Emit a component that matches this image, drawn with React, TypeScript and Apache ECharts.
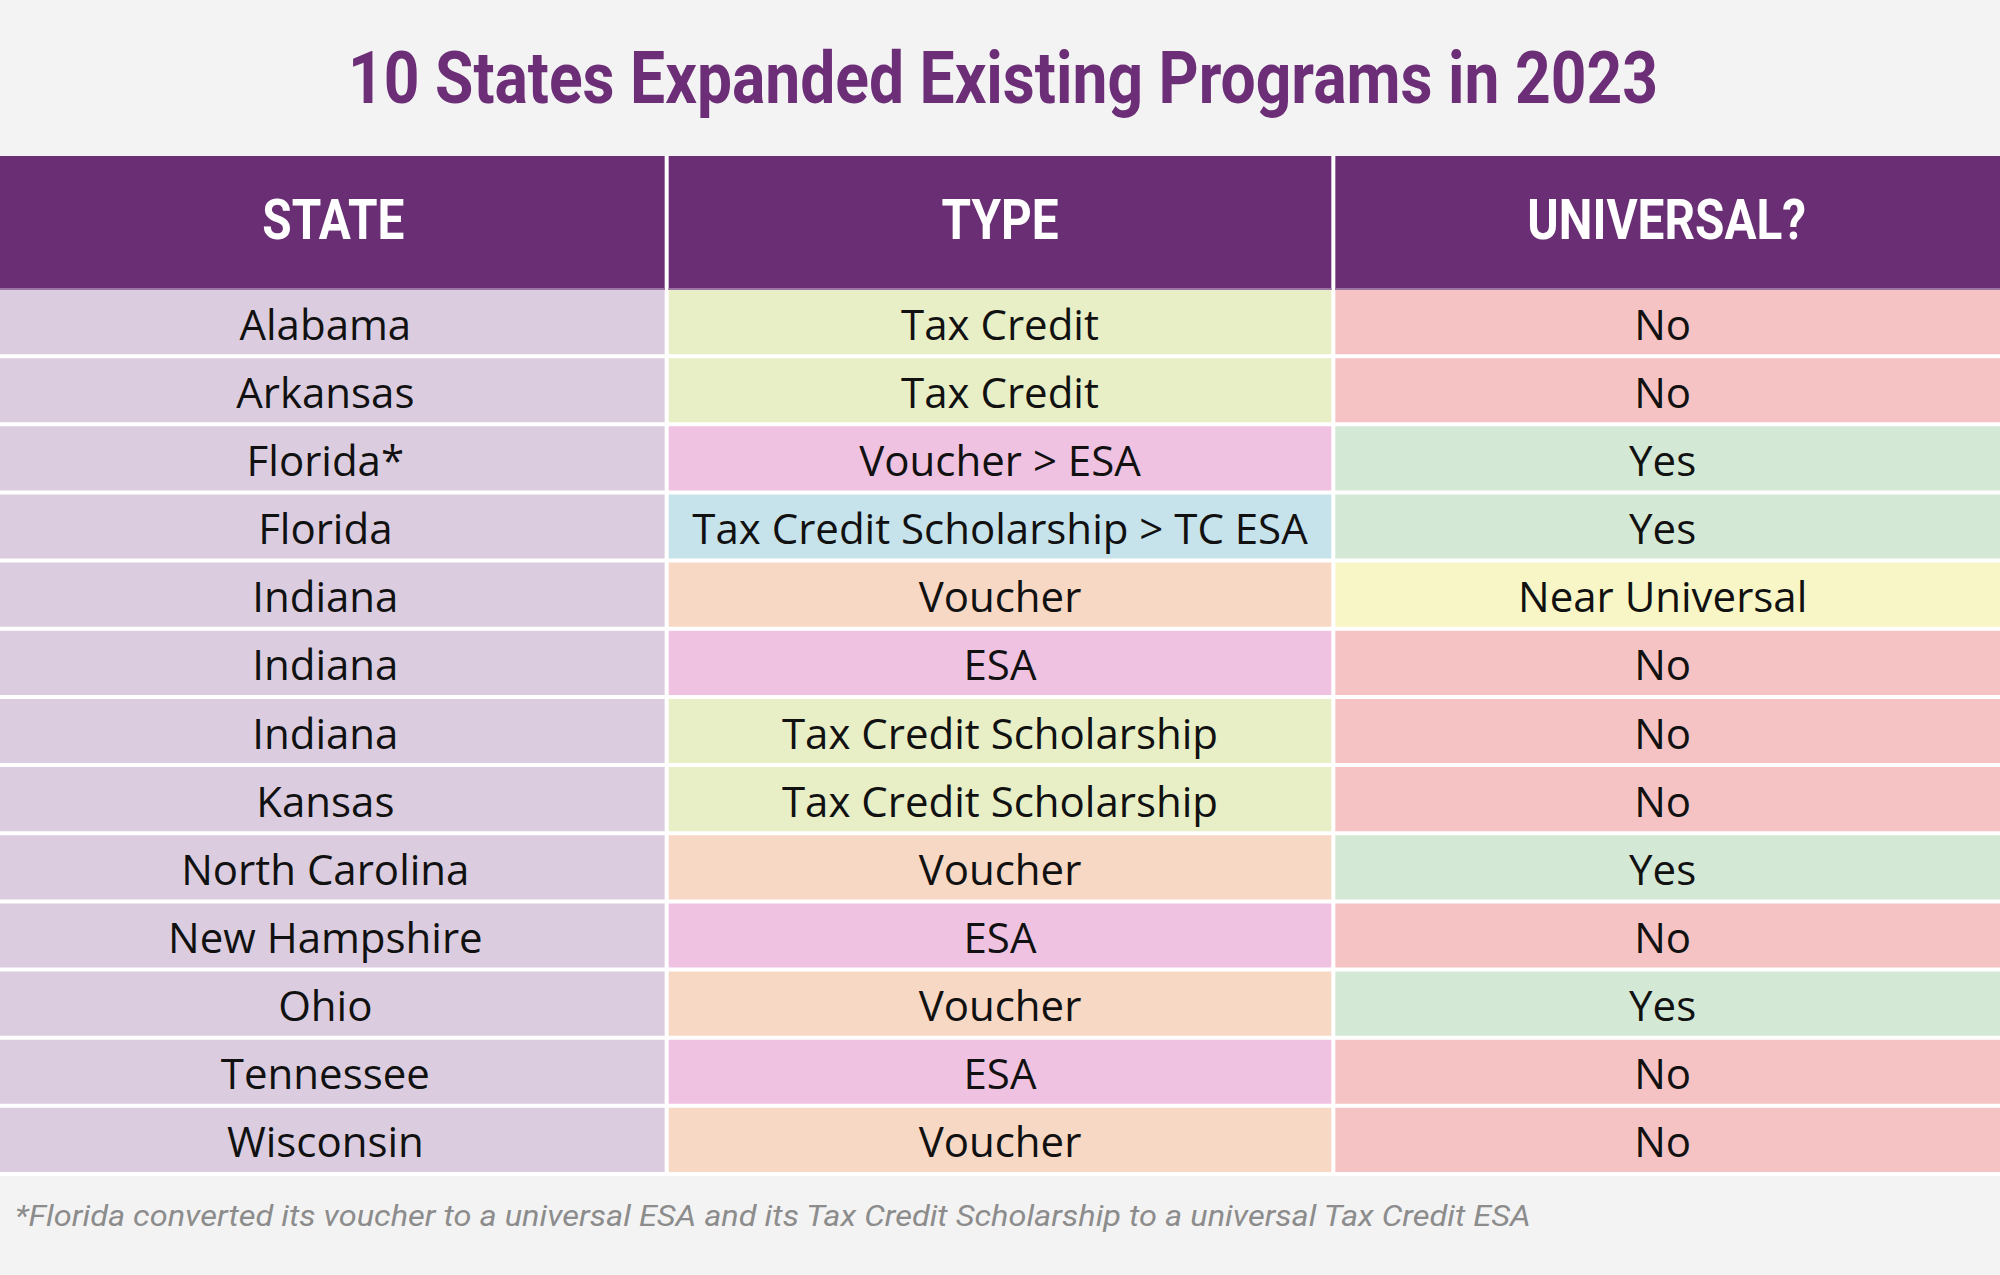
import React, { useEffect, useRef } from "react";
import * as echarts from "echarts";

const titleText = "10 States Expanded Existing Programs in 2023";
const headers = ["STATE", "TYPE", "UNIVERSAL?"];
const states = [
  "Alabama", "Arkansas", "Florida*", "Florida", "Indiana", "Indiana", "Indiana",
  "Kansas", "North Carolina", "New Hampshire", "Ohio", "Tennessee", "Wisconsin",
];
const types = [
  "Tax Credit", "Tax Credit", "Voucher > ESA", "Tax Credit Scholarship > TC ESA",
  "Voucher", "ESA", "Tax Credit Scholarship", "Tax Credit Scholarship", "Voucher",
  "ESA", "Voucher", "ESA", "Voucher",
];
const universal = [
  "No", "No", "Yes", "Yes", "Near Universal", "No", "No", "No", "Yes", "No", "Yes", "No", "No",
];
const footnote =
  "*Florida converted its voucher to a universal ESA and its Tax Credit Scholarship to a universal Tax Credit ESA";

const stateColor = "#dbcddf";
const typeColors: Record<string, string> = {
  "Tax Credit": "#e8efc6",
  "Tax Credit Scholarship": "#e8efc6",
  "Voucher > ESA": "#f0c2e2",
  ESA: "#f0c2e2",
  "Tax Credit Scholarship > TC ESA": "#c6e2ea",
  Voucher: "#f7d8c4",
};
const universalColors: Record<string, string> = {
  No: "#f6c3c4",
  Yes: "#d3e8d5",
  "Near Universal": "#f8f6c7",
};

const PURPLE = "#6a2e74";
const COND = "Roboto, 'Liberation Sans', sans-serif";
const BODY = "'Open Sans', 'Noto Sans', sans-serif";

type Cell = [number, number, string, string];

const bodyCells: Cell[] = [];
states.forEach((s, i) => {
  bodyCells.push([0, i, s, stateColor]);
  bodyCells.push([1, i, types[i], typeColors[types[i]]]);
  bodyCells.push([2, i, universal[i], universalColors[universal[i]]]);
});
const headerCells: Cell[] = headers.map((h, i) => [i, 0, h, PURPLE]);

function measure(text: string, font: string): number {
  const cv = document.createElement("canvas");
  const ctx = cv.getContext("2d")!;
  ctx.font = font;
  return ctx.measureText(text).width;
}

const colShift = [-8, 0, -4];

function makeRender(cells: Cell[], isHeader: boolean, headScale: number) {
  return (params: any, api: any) => {
    const cell = cells[params.dataIndex];
    const col = cell[0];
    const c = api.coord([api.value(0), api.value(1)]);
    const s = api.size([1, 1]);
    const w = s[0];
    const h = s[1];
    const x0 = c[0] - w / 2;
    const y0 = c[1] - h / 2;
    const gl = col > 0 ? 2 : 0;
    const gr = col < 2 ? 2 : 0;
    const gb = isHeader ? 0 : 4;
    const children: any[] = [
      {
        type: "rect",
        shape: { x: x0 + gl, y: y0, width: w - gl - gr, height: h - gb },
        style: { fill: cell[3] },
      },
      isHeader
        ? {
            type: "text",
            x: c[0],
            y: c[1] - 3,
            scaleX: headScale,
            style: {
              text: cell[2],
              fill: "#ffffff",
              fontFamily: COND,
              fontSize: 55,
              fontWeight: "bold",
              align: "center",
              verticalAlign: "middle",
            },
          }
        : {
            type: "text",
            x: c[0] + colShift[col],
            y: c[1] - 1,
            style: {
              text: cell[2],
              fill: "#111111",
              fontFamily: BODY,
              fontSize: 42,
              align: "center",
              verticalAlign: "middle",
            },
          },
    ];
    if (isHeader) {
      children.push({
        type: "rect",
        shape: { x: x0 + gl, y: y0 + h - 2, width: w - gl - gr, height: 2 },
        style: { fill: "#9a74a3" },
      });
    }
    return { type: "group", children };
  };
}

export default function App() {
  const ref = useRef<HTMLDivElement>(null);
  useEffect(() => {
    document.body.style.margin = "0";
    const chart = echarts.init(ref.current!, null, { renderer: "svg" });
    const rowIdx = states.map((_, i) => String(i));

    const titleScale = 1311 / measure(titleText, "bold 72px Roboto");
    const headMeasured = headers.reduce((a, t) => a + measure(t, "bold 55px Roboto"), 0);
    const headScale = (139 + 115 + 284) / headMeasured;
    const footScale = 1518 / measure(footnote, "italic 30px Roboto");

    chart.setOption({
      animation: false,
      backgroundColor: "#f3f3f3",
      grid: [
        { left: 0, right: 0, top: 156, height: 134, show: true, backgroundColor: "#ffffff", borderWidth: 0 },
        { left: 0, right: 0, top: 290, height: 886, show: true, backgroundColor: "#ffffff", borderWidth: 0 },
      ],
      xAxis: [
        { type: "category", gridIndex: 0, data: headers, show: false },
        { type: "category", gridIndex: 1, data: headers, show: false },
      ],
      yAxis: [
        { type: "category", gridIndex: 0, data: ["h"], show: false },
        { type: "category", gridIndex: 1, data: rowIdx, inverse: true, show: false },
      ],
      graphic: [
        {
          type: "text",
          x: 1003,
          y: 78,
          scaleX: titleScale,
          style: {
            text: titleText,
            fill: "#6c2e77",
            fontFamily: COND,
            fontWeight: "bold",
            fontSize: 72,
            align: "center",
            verticalAlign: "middle",
          },
        },
        {
          type: "text",
          x: 15,
          y: 1216,
          scaleX: footScale,
          style: {
            text: footnote,
            fill: "#8c8c8c",
            fontFamily: COND,
            fontStyle: "italic",
            fontSize: 30,
            align: "left",
            verticalAlign: "middle",
          },
        },
      ],
      series: [
        {
          type: "custom",
          xAxisIndex: 0,
          yAxisIndex: 0,
          renderItem: makeRender(headerCells, true, headScale),
          data: headerCells.map((c) => [c[0], c[1]]),
        },
        {
          type: "custom",
          xAxisIndex: 1,
          yAxisIndex: 1,
          renderItem: makeRender(bodyCells, false, 1),
          data: bodyCells.map((c) => [c[0], c[1]]),
        },
      ],
    });
    return () => chart.dispose();
  }, []);
  return <div ref={ref} style={{ width: 2000, height: 1275 }} />;
}
